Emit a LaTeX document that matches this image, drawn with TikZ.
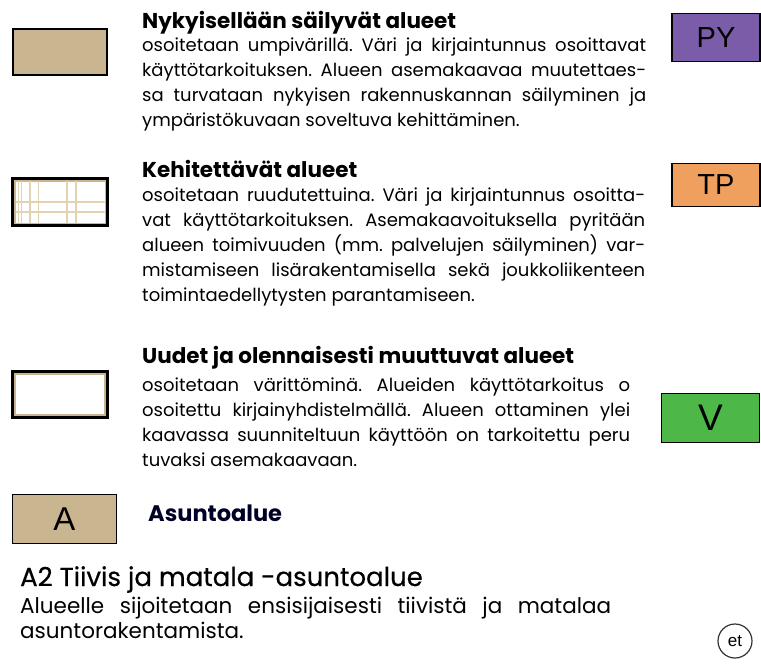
\documentclass[tikz,border=0pt]{standalone}
\usepackage{fontspec}
\setmainfont{Poppins}
\newfontfamily\arialf{Liberation Sans}
\newfontfamily\medfont{Poppins}[FakeBold=0.5]
\usetikzlibrary{calc}
\definecolor{tan}{HTML}{C9B590}
\definecolor{gridtan}{HTML}{E2D2B0}
\definecolor{pyviolet}{HTML}{7A5CA8}
\definecolor{tporange}{HTML}{F0A05E}
\definecolor{vgreen}{HTML}{4DB848}
\newcommand{\jline}[2]{\makebox[#1][s]{#2}}
\frenchspacing
\begin{document}
\begin{tikzpicture}[x=1pt,y=-1pt,
  legbox/.style={draw=black, line width=2pt, inner sep=0pt, minimum width=94pt, minimum height=46pt},
  codebox/.style={draw=black, line width=1.2pt, inner sep=0pt, font=\arialf},
  head/.style={anchor=base west, inner sep=0pt, font=\fontsize{21.5}{24}\selectfont\bfseries},
  body/.style={anchor=base west, inner sep=0pt, font=\fontsize{18}{21}\selectfont},
  gridline/.style={draw=gridtan, line width=1.2pt}]
\useasboundingbox (0,0) rectangle (761,664);

% legend boxes
\node[legbox, fill=tan] (b1) at (60,52) {};

\node[legbox, fill=tan] (b2) at (60,202) {};
\fill[white] ($(b2.north west)+(3.5,3.5)$) rectangle ($(b2.south east)+(-3.5,-3.5)$);
\begin{scope}
\clip ($(b2.north west)+(3.5,3.5)$) rectangle ($(b2.south east)+(-3.5,-3.5)$);
\foreach \gx in {18.5,21.5,30,38.5,67,76}
  \draw[gridline] (\gx,170) -- (\gx,235);
\foreach \gy in {202,212}
  \draw[gridline] (0,\gy) -- (120,\gy);
\end{scope}
\draw[black, line width=2pt] (b2.north west) rectangle (b2.south east);

\node[legbox, fill=tan, minimum height=45pt] (b3) at (60,394.5) {};
\fill[white] ($(b3.north west)+(4,4)$) rectangle ($(b3.south east)+(-4,-4)$);
\draw[black, line width=2pt] (b3.north west) rectangle (b3.south east);

% code boxes
\node[codebox, fill=tan, minimum width=104pt, minimum height=49pt, font=\arialf\fontsize{33}{36}\selectfont] (ba) at (64.5,519) {A};
\node[codebox, fill=pyviolet, minimum width=88pt, minimum height=48pt, font=\arialf\fontsize{29}{32}\selectfont] (bpy) at (716,37.5) {PY};
\node[codebox, fill=tporange, minimum width=88pt, minimum height=43pt, font=\arialf\fontsize{29}{32}\selectfont] (btp) at (716,185) {TP};
\node[codebox, fill=vgreen, minimum width=98pt, minimum height=49pt, font=\arialf\fontsize{37}{40}\selectfont] (bv) at (710.5,418) {V};

% section 1
\node[head] (h1) at (142,28) {Nykyisellään säilyvät alueet};
\node[body] (s1a) at (142,51) {\jline{504pt}{osoitetaan umpivärillä. Väri ja kirjaintunnus osoittavat}};
\node[body] (s1b) at (142,76) {\jline{504pt}{käyttötarkoituksen. Alueen asemakaavaa muutettaes-}};
\node[body] (s1c) at (142,101) {\jline{504pt}{sa turvataan nykyisen rakennuskannan säilyminen ja}};
\node[body] (s1d) at (142,126) {ympäristökuvaan soveltuva kehittäminen.};

% section 2
\node[head] (h2) at (142,177) {Kehitettävät alueet};
\node[body] (s2a) at (142,201) {\jline{503pt}{osoitetaan ruudutettuina. Väri ja kirjaintunnus osoitta-}};
\node[body] (s2b) at (142,226) {\jline{503pt}{vat käyttötarkoituksen. Asemakaavoituksella pyritään}};
\node[body] (s2c) at (142,251) {\jline{503pt}{alueen toimivuuden (mm. palvelujen säilyminen) var-}};
\node[body] (s2d) at (142,276) {\jline{503pt}{mistamiseen lisärakentamisella sekä joukkoliikenteen}};
\node[body] (s2e) at (142,301) {toimintaedellytysten parantamiseen.};

% section 3
\node[head] (h3) at (142,363) {Uudet ja olennaisesti muuttuvat alueet};
\node[body] (s3a) at (142,391) {\jline{488pt}{osoitetaan värittöminä. Alueiden käyttötarkoitus o}};
\node[body] (s3b) at (142,416) {\jline{488pt}{osoitettu kirjainyhdistelmällä. Alueen ottaminen ylei}};
\node[body] (s3c) at (142,441) {\jline{488pt}{kaavassa suunniteltuun käyttöön on tarkoitettu peru}};
\node[body] (s3d) at (142,466) {tuvaksi asemakaavaan.};

% Asuntoalue
\node[anchor=base west, inner sep=0pt, font=\fontsize{22.5}{25}\selectfont\bfseries, text={black!85!blue}] (asu) at (148,521) {Asuntoalue};

% A2
\node[anchor=base west, inner sep=0pt, font=\medfont\fontsize{26}{29}\selectfont] (a2h) at (20,586) {A2 Tiivis ja matala -asuntoalue};
\node[anchor=base west, inner sep=0pt, font=\fontsize{21.5}{24}\selectfont] (a2a) at (20,613) {\jline{591pt}{Alueelle sijoitetaan ensisijaisesti tiivistä ja matalaa}};
\node[anchor=base west, inner sep=0pt, font=\fontsize{21.5}{24}\selectfont] (a2b) at (20,638) {asuntorakentamista.};

% et
\node[circle, draw=black!80, line width=1.2pt, minimum size=34pt, inner sep=0pt, font=\arialf\fontsize{17}{20}\selectfont] (et) at (735,641) {et};
\end{tikzpicture}
\end{document}
